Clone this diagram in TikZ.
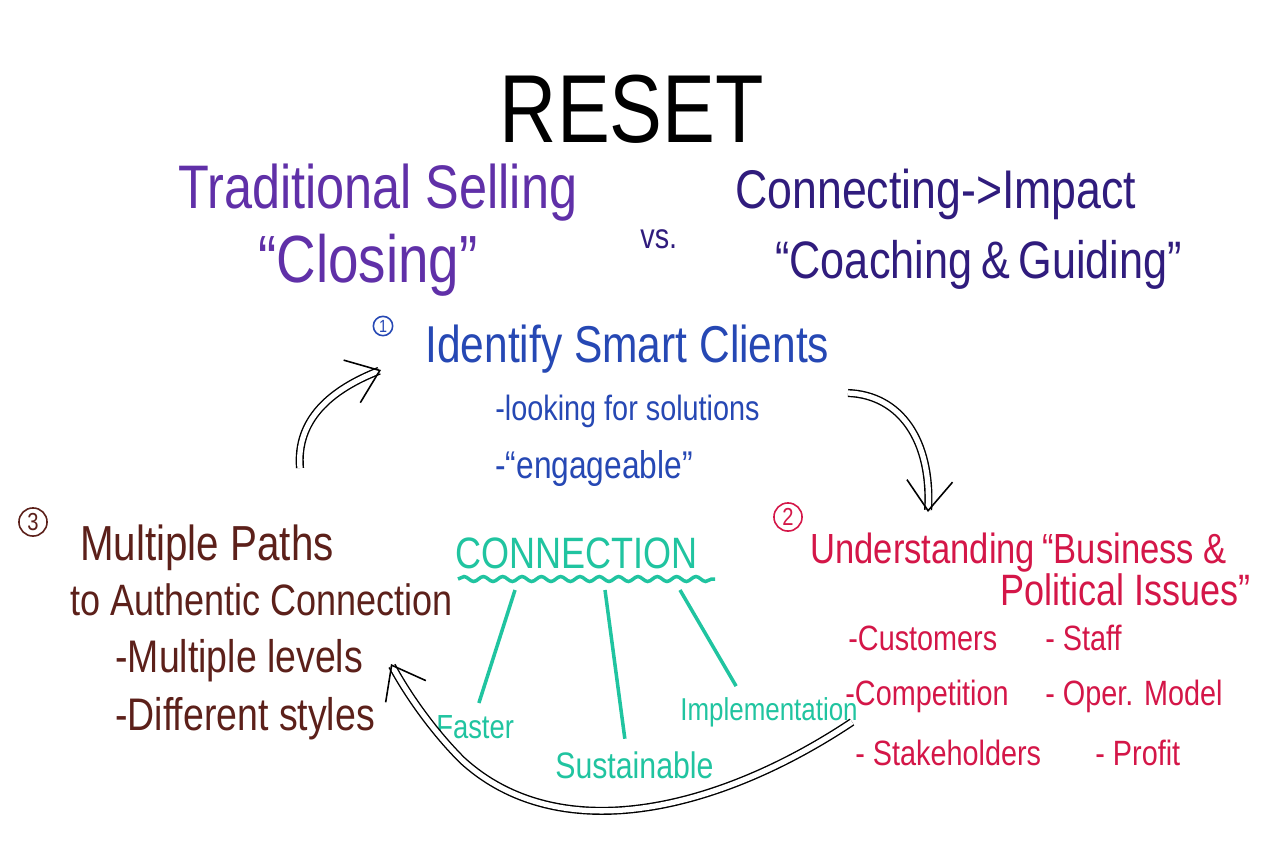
\documentclass[tikz,border=0pt]{standalone}
\usepackage{fontspec}
\setmainfont[FakeStretch=0.82]{Liberation Sans}
\usetikzlibrary{arrows.meta, positioning, calc, decorations.pathmorphing}
\definecolor{tradviolet}{RGB}{96,48,168}
\definecolor{impactindigo}{RGB}{48,28,125}
\definecolor{clientblue}{RGB}{38,72,180}
\definecolor{issuered}{RGB}{212,22,72}
\definecolor{pathbrown}{RGB}{92,32,26}
\definecolor{connteal}{RGB}{32,196,160}

\begin{document}
\begin{tikzpicture}[
			x=0.02cm, y=-0.02cm,
			txt/.style={inner sep=0pt, anchor=base west},
			num/.style={draw, circle, line width=0.9pt, inner sep=0pt, minimum size=16pt, font=\fontsize{14}{15}\selectfont},
			hollow/.style={draw=black, double=white, double distance=3pt, line width=0.8pt,
				-{Straight Barb[length=17pt, width=26pt, line width=0.9pt]}},
			branch/.style={draw=connteal, line width=2pt, shorten >=7pt}
			]
			
			\fill[white] (0,0) rectangle (1280,853);
			\useasboundingbox (0,0) rectangle (1280,853);
			
			% title
			\node[txt, anchor=base] (reset) at (632,142) {\fontsize{55}{55}\selectfont RESET};
			\node[txt, text=tradviolet] (trad) at (178,208) {\fontsize{35}{36}\selectfont Traditional Selling};
			\node[txt, text=tradviolet] (closing) at (258,282) {\fontsize{38}{40}\selectfont ``Closing''};
			\node[txt, text=impactindigo] (vs) at (640,248) {\fontsize{20}{20}\selectfont vs.};
			\node[txt, text=impactindigo] (impact) at (735,208) {\fontsize{31}{32}\selectfont Connecting->Impact};
			\node[txt, text=impactindigo] (coach) at (775,278) {\fontsize{30}{31}\selectfont ``Coaching\,\&\,Guiding''};
			
			% 1
			\node[num, draw=clientblue, text=clientblue, minimum size=11pt, font=\fontsize{10}{11}\selectfont] (n1) at (383,326) {1};
			\node[txt, text=clientblue] (identify) at (425,362) {\fontsize{29.5}{30}\selectfont Identify Smart Clients};
			\node[txt, text=clientblue] (solutions) at (495,420) {\fontsize{20}{21}\selectfont -looking for solutions};
			\node[txt, text=clientblue] (engage) at (495,478) {\fontsize{22}{23}\selectfont -``engageable''};
			
			% 2
			\node[num, draw=issuered, text=issuered] (n2) at (788,517) {2};
			\node[txt, text=issuered] (underst) at (810,563) {\fontsize{24}{25}\selectfont Understanding\,``Business \&};
			\node[txt, text=issuered] (political) at (1000,605) {\fontsize{25}{26}\selectfont Political Issues''};
			\node[txt, text=issuered] (customers) at (848,650) {\fontsize{20}{21}\selectfont -Customers};
			\node[txt, text=issuered] (staff) at (1045,650) {\fontsize{20}{21}\selectfont - Staff};
			\node[txt, text=issuered] (competition) at (845,705) {\fontsize{20}{21}\selectfont -Competition};
			\node[txt, text=issuered] (opermodel) at (1045,705) {\fontsize{20}{21}\selectfont - Oper. Model};
			\node[txt, text=issuered] (stake) at (855,765) {\fontsize{20}{21}\selectfont - Stakeholders};
			\node[txt, text=issuered] (profit) at (1095,765) {\fontsize{20}{21}\selectfont - Profit};
			
			% 3
			\node[num, draw=pathbrown, text=pathbrown] (n3) at (33,522) {3};
			\node[txt, text=pathbrown] (paths) at (80,560) {\fontsize{28}{29}\selectfont Multiple Paths};
			\node[txt, text=pathbrown] (authentic) at (70,615) {\fontsize{25}{26}\selectfont to Authentic Connection};
			\node[txt, text=pathbrown] (levels) at (115,672) {\fontsize{26}{27}\selectfont -Multiple levels};
			\node[txt, text=pathbrown] (styles) at (115,730) {\fontsize{26}{27}\selectfont -Different styles};
			
			% connection
			\node[txt, text=connteal] (conn) at (455,568) {\fontsize{25}{26}\selectfont CONNECTION};
			\node[txt, text=connteal] (faster) at (436,738) {\fontsize{19}{20}\selectfont Faster};
			\node[txt, text=connteal] (sustain) at (555,778) {\fontsize{21}{22}\selectfont Sustainable};
			\node[txt, text=connteal] (impl) at (680,720) {\fontsize{18}{19}\selectfont Implementation};
			
			\coordinate (wl) at (458,579);
			\coordinate (wr) at (715,579);
			\coordinate (w1) at (515,590);
			\coordinate (w2) at (605,590);
			\coordinate (w3) at (680,590);
			\draw[connteal, line width=2pt, decorate,
			decoration={snake, amplitude=1.4pt, segment length=11pt}] (wl) -- (wr);
			\draw[branch] (w1) -- (faster.north);
			\draw[branch] (w2) -- ($(sustain.north west)!0.45!(sustain.north east)$);
			\draw[branch] (w3) -- ($(impl.north west)!0.35!(impl.north east)$);
			
			% cycle arrows
			\coordinate (s12) at (848,393);
			\coordinate (t12) at (928,512);
			\coordinate (s31) at (300,468);
			\coordinate (t31) at (381,370);
			\coordinate (sback) at (852,722);
			\coordinate (mback) at (462,760);
			\coordinate (tback) at (391,664);
			\draw[hollow] (s12) .. controls (900,395) and (932,440) .. (t12);
			\draw[hollow] (s31) .. controls (296,420) and (330,390) .. (t31);
			\draw[hollow] (sback) .. controls (720,810) and (560,850) .. (mback) .. controls (430,728) and (405,690) .. (tback);
			
		\end{tikzpicture}
\end{document}
